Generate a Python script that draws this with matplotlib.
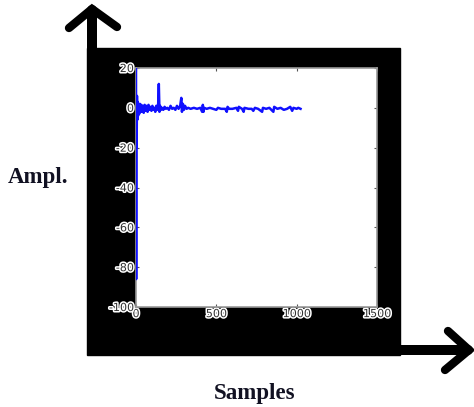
import matplotlib.pyplot as plt
import matplotlib.patheffects as pe
from matplotlib.patches import Rectangle
from matplotlib.lines import Line2D

W, H = 474, 407

# signal (sample index, amplitude)
sample_idx = [0, 1, 2, 4, 6, 8, 10, 13, 16, 20, 24, 28, 33, 38, 43, 48, 54, 60,
              66, 72, 78, 84, 90, 96, 102, 108, 114, 120, 126, 132, 138, 142,
              146, 150, 156, 162, 170, 178, 186, 195, 205, 215, 225, 235, 245,
              255, 265, 275, 282, 286, 292, 298, 305, 315, 325, 340, 360, 380,
              400, 412, 416, 420, 424, 440, 460, 480, 500, 510, 530, 555, 565,
              570, 580, 600, 625, 635, 640, 660, 670, 675, 700, 720, 730, 740,
              760, 785, 790, 810, 830, 855, 860, 880, 900, 920, 940, 960, 972,
              980, 1000, 1010, 1024]
amplitude = [20, -86, 5, -20, 6, -6, 3, -4, 2, -3, 2, -2, 1.5, -2, 1, -2.5, 1.5, -1.5,
             1, -2, 1.5, -1, 0.5, -1.5, 1, -1, 0, -2, 1, -1, 2, 12,
             -2, 1, -1, 0, -1, 0.5, -0.5, 0, -1, 1, -0.5, 0, -1,
             1, -0.5, 1, 5, -2, 2, -1, 1, -0.5, 0, -0.5, 0, -0.5,
             0, -2, 1.5, -2, 0, -0.5, 0, -0.5, -1, 0, -0.5, -0.5, -2,
             0.5, -0.5, -0.5, 0, -1.5, 0.5, -0.5, -2, 0, -0.5, -0.5, -1.5, 0,
             -0.5, -2, 0, -0.5, 0, -2, 0.5, -0.5, 0, -1, -0.5, 0.5, -1.5,
             0, -0.5, 0, -0.5]

x_ticks = [0, 500, 1000, 1500]
y_ticks = [-100, -80, -60, -40, -20, 0, 20]


def fx(px):
    return px / W


def fy(py):
    return 1 - py / H


fig = plt.figure(figsize=(W / 100, H / 100), dpi=100)
fig.patch.set_facecolor("white")

# black frame behind the axes
fig.patches.append(Rectangle((fx(87), fy(355)), fx(400) - fx(87), fy(48) - fy(355),
                             transform=fig.transFigure, color="black", zorder=-5))

# big arrows
arrow_kw = dict(transform=fig.transFigure, color="black", solid_capstyle="round", zorder=-4)
fig.lines.append(Line2D([fx(92), fx(92)], [fy(50), fy(10)], lw=7.2, **arrow_kw))
fig.lines.append(Line2D([fx(69), fx(92), fx(117)], [fy(28), fy(9), fy(27)], lw=6,
                        solid_joinstyle="miter", **arrow_kw))
fig.lines.append(Line2D([fx(398), fx(468)], [fy(350), fy(350)], lw=7.2, **arrow_kw))
fig.lines.append(Line2D([fx(448), fx(469), fx(445)], [fy(331), fy(350), fy(370)], lw=6,
                        solid_joinstyle="miter", **arrow_kw))

ax = fig.add_axes([fx(136), fy(307), fx(377) - fx(136), fy(68) - fy(307)])
ax.set_zorder(2)
ax.plot(sample_idx, amplitude, color="#1010ff", lw=1.8, zorder=3)
ax.set_xlim(0, 1500)
ax.set_ylim(-100, 20)
ax.set_xticks(x_ticks)
ax.set_yticks(y_ticks)
ax.set_xticklabels([str(v) for v in x_ticks])
ax.set_yticklabels([str(v) for v in y_ticks])
ax.tick_params(direction="in", length=2.5, color="#555555", top=True, right=True,
               labelsize=8, labelcolor="#333333", pad=1.5)
halo = [pe.withStroke(linewidth=2.2, foreground="white")]
for lab in ax.get_xticklabels() + ax.get_yticklabels():
    lab.set_path_effects(halo)
for s in ax.spines.values():
    s.set_color("#999999")
    s.set_linewidth(1.2)

fig.text(fx(38), fy(178), "Ampl.", ha="center", va="center", fontsize=16.5,
         fontweight="bold", family="Liberation Serif", color="#111122")
fig.text(fx(255), fy(393), "Samples", ha="center", va="center", fontsize=16.5,
         fontweight="bold", family="Liberation Serif", color="#111122")

plt.savefig("out.png", dpi=100)
plt.close()
